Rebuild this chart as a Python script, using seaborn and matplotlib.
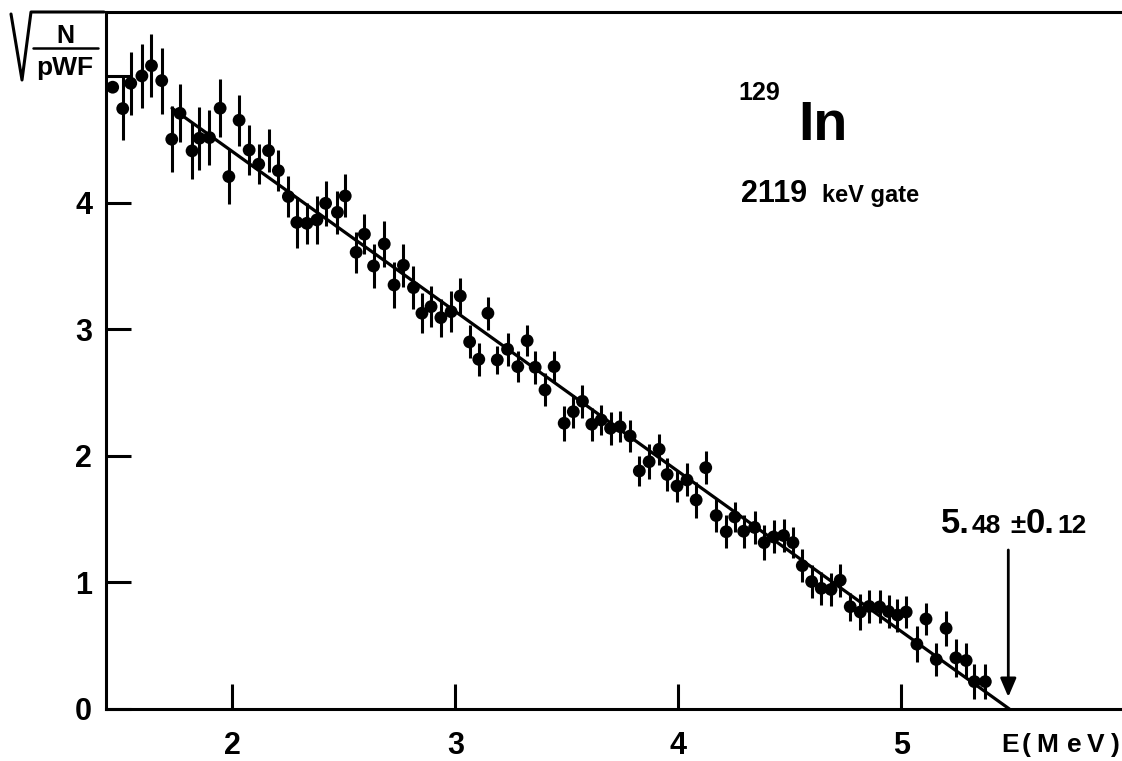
import matplotlib
matplotlib.use('Agg')
import matplotlib.pyplot as plt
from matplotlib.lines import Line2D
import seaborn as sns

# Kurie plot data
energy = [1.463, 1.508, 1.544, 1.594, 1.637, 1.683, 1.728, 1.765, 1.819, 1.852,
          1.897, 1.945, 1.984, 2.030, 2.075, 2.118, 2.162, 2.206, 2.251, 2.289,
          2.334, 2.379, 2.418, 2.471, 2.506, 2.555, 2.592, 2.633, 2.681, 2.725,
          2.767, 2.812, 2.850, 2.891, 2.935, 2.981, 3.022, 3.064, 3.105, 3.146,
          3.188, 3.234, 3.280, 3.322, 3.358, 3.402, 3.443, 3.488, 3.529, 3.570,
          3.612, 3.654, 3.696, 3.739, 3.784, 3.825, 3.869, 3.914, 3.950, 3.994,
          4.039, 4.080, 4.123, 4.170, 4.215, 4.253, 4.293, 4.342, 4.385, 4.427,
          4.472, 4.514, 4.556, 4.598, 4.641, 4.685, 4.726, 4.771, 4.816, 4.856,
          4.903, 4.943, 4.983, 5.022, 5.070, 5.111, 5.157, 5.201, 5.245, 5.291,
          5.328, 5.377]
kurie = [4.911, 4.742, 4.942, 5.000, 5.081, 4.963, 4.500, 4.705, 4.408, 4.508,
         4.513, 4.745, 4.205, 4.650, 4.415, 4.303, 4.410, 4.252, 4.047, 3.843,
         3.836, 3.863, 3.994, 3.923, 4.052, 3.607, 3.750, 3.499, 3.673, 3.349,
         3.505, 3.328, 3.126, 3.178, 3.091, 3.138, 3.262, 2.899, 2.762, 3.126,
         2.757, 2.841, 2.704, 2.909, 2.699, 2.520, 2.704, 2.257, 2.348, 2.430,
         2.249, 2.283, 2.217, 2.230, 2.156, 1.880, 1.953, 2.051, 1.852, 1.761,
         1.809, 1.651, 1.906, 1.528, 1.400, 1.517, 1.404, 1.434, 1.314, 1.359,
         1.370, 1.314, 1.132, 1.006, 0.953, 0.944, 1.017, 0.808, 0.766, 0.810,
         0.806, 0.770, 0.742, 0.766, 0.512, 0.711, 0.391, 0.637, 0.404, 0.383,
         0.216, 0.216]
kurie_err = [0.00, 0.25, 0.25, 0.25, 0.25, 0.26, 0.26, 0.23, 0.22, 0.25,
             0.22, 0.23, 0.22, 0.20, 0.20, 0.16, 0.17, 0.16, 0.16, 0.20,
             0.16, 0.19, 0.18, 0.17, 0.17, 0.16, 0.16, 0.17, 0.18, 0.18,
             0.17, 0.17, 0.16, 0.16, 0.15, 0.16, 0.14, 0.13, 0.13, 0.13,
             0.11, 0.13, 0.12, 0.12, 0.13, 0.13, 0.12, 0.14, 0.13, 0.13,
             0.13, 0.12, 0.13, 0.12, 0.13, 0.12, 0.14, 0.12, 0.13, 0.13,
             0.13, 0.14, 0.13, 0.13, 0.13, 0.12, 0.13, 0.13, 0.14, 0.13,
             0.13, 0.12, 0.13, 0.13, 0.13, 0.13, 0.13, 0.11, 0.14, 0.13,
             0.13, 0.13, 0.13, 0.13, 0.14, 0.13, 0.13, 0.14, 0.15, 0.14,
             0.14, 0.14]

# linear fit and endpoint
fit_e = [1.729, 5.485]
fit_y = [4.745, 0.0]
endpoint = 5.48

xticks = [2, 3, 4, 5]
yticks = [0, 1, 2, 3, 4, 5]
ytick_labels = ['0', '1', '2', '3', '4', '']

W, H = 1122, 761

sns.set_style('white')
plt.rcParams['font.family'] = ['Liberation Sans', 'DejaVu Sans']
plt.rcParams['font.weight'] = 'bold'
plt.rcParams['text.color'] = 'black'
plt.rcParams['xtick.color'] = 'black'
plt.rcParams['ytick.color'] = 'black'

fig = plt.figure(figsize=(W / 100, H / 100), dpi=100)
ax = fig.add_axes([106 / W, (H - 709) / H, (W - 106) / W, (709 - 12) / H])


def fx(px):
    return px / W


def fy(py):
    return 1 - py / H


def ftext(px, py, s, size, **kw):
    fig.text(fx(px), fy(py), s, fontsize=size, fontweight='bold',
             va='baseline', color='black', **kw)


ax.errorbar(energy, kurie, yerr=kurie_err, fmt='none', ecolor='black',
            elinewidth=2.2, capsize=0)
sns.scatterplot(x=energy, y=kurie, color='black', s=85, edgecolor='none',
                ax=ax, zorder=3)
sns.lineplot(x=fit_e, y=fit_y, color='black', linewidth=2.3, ax=ax)

ax.set_xlim(1.433, 5.99)
ax.set_ylim(0, 5.505)
ax.set_xticks(xticks)
ax.set_xticklabels([str(t) for t in xticks])
ax.set_yticks(yticks)
ax.set_yticklabels(ytick_labels)
ax.tick_params(axis='both', direction='in', length=18, width=2.2,
               labelsize=22, color='black', labelcolor='black',
               bottom=True, left=True)
ax.tick_params(axis='x', pad=16)
ax.tick_params(axis='y', pad=10)
for lab in ax.get_xticklabels() + ax.get_yticklabels():
    lab.set_fontweight('bold')
for side in ['left', 'bottom', 'top']:
    ax.spines[side].set_linewidth(2.2)
    ax.spines[side].set_color('black')
ax.spines['right'].set_visible(False)

# endpoint arrow
ax.annotate('', xy=(endpoint, 0.095), xytext=(endpoint, 1.256),
            arrowprops=dict(arrowstyle='-|>,head_length=0.7,head_width=0.3',
                            lw=2.0, color='black', mutation_scale=16,
                            shrinkA=0, shrinkB=0))
ftext(941, 533, '5.', 25)
ftext(972, 533, '48', 19)
ftext(1010, 533, '\u00b1', 20)
ftext(1026, 533, '0.', 25)
ftext(1057, 533, '12', 19)

# nucleus and gate labels
ftext(738, 100, '129', 18)
ftext(798, 140, 'In', 40)
ftext(741, 202, '2119', 22)
ftext(822, 202, 'keV gate', 17)

# axis title, letter-spaced as in the original
for ch, px in zip('E(MeV)', [1001, 1022, 1036, 1067, 1087, 1111]):
    ftext(px, 752, ch, 19)

# y label: sqrt(N / pWF)
ftext(65, 43, 'N', 18, ha='center')
ftext(65, 75, 'pWF', 19, ha='center')
fig.add_artist(Line2D([fx(33), fx(98)], [fy(48), fy(48)], color='black',
                      lw=1.8, transform=fig.transFigure))
fig.add_artist(Line2D([fx(11), fx(22), fx(31), fx(104)],
                      [fy(14), fy(80), fy(12), fy(12)], color='black',
                      lw=2.2, transform=fig.transFigure))

fig.savefig('out.png', dpi=100)
